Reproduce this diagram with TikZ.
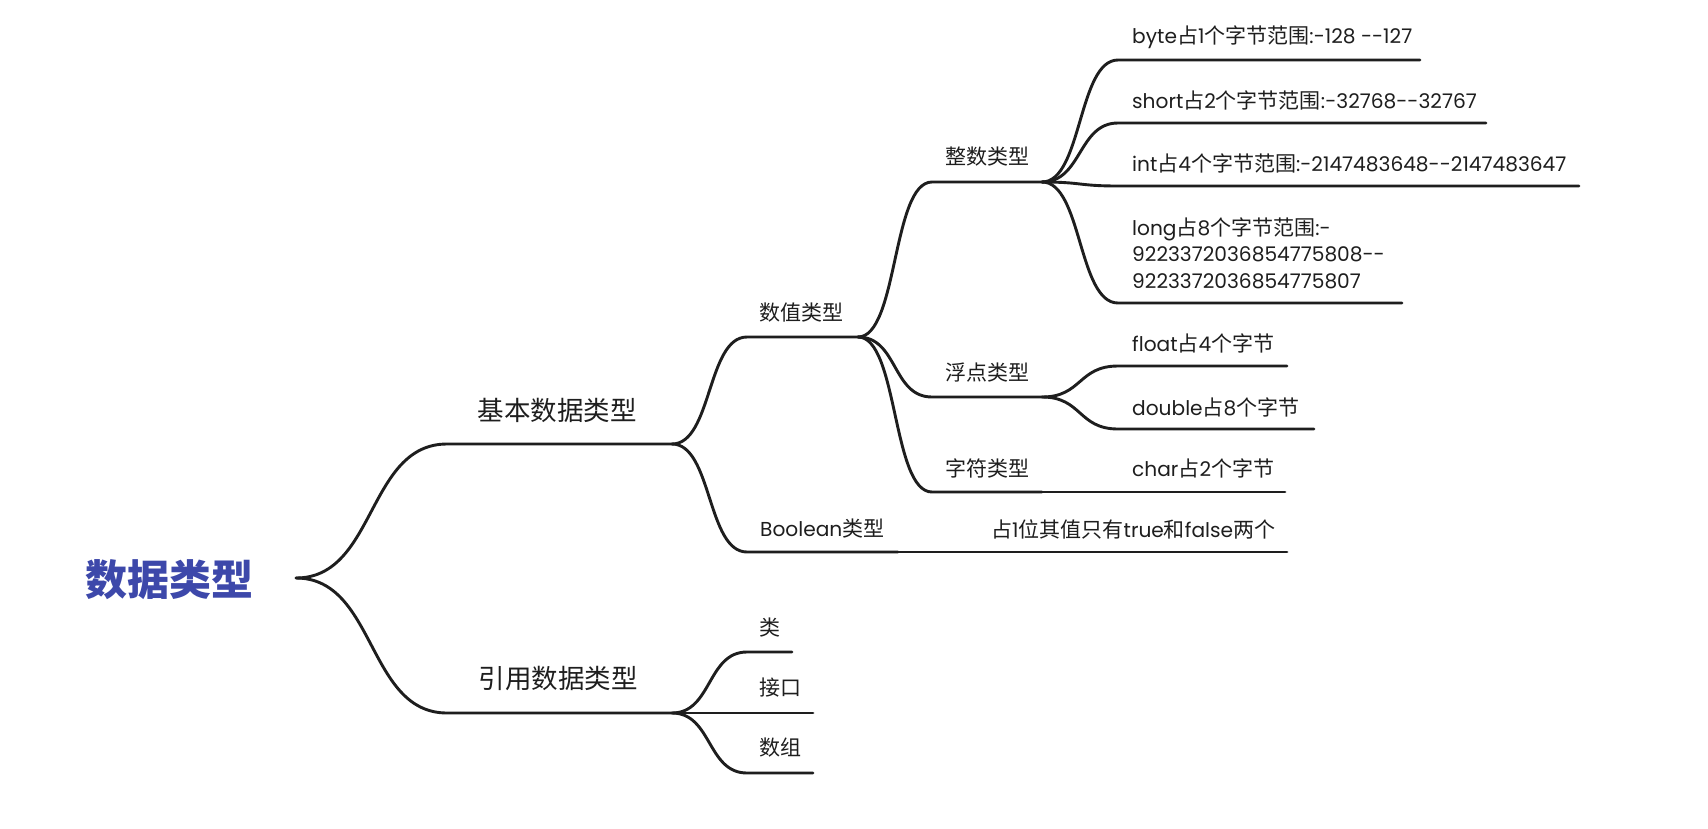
\documentclass[tikz,border=0pt]{standalone}
\usepackage{fontspec}
\setmainfont{Noto Sans CJK SC}
\newfontfamily\latn[Scale=0.96]{Poppins}
\definecolor{rootblue}{RGB}{61,72,170}
\definecolor{ink}{RGB}{30,30,30}
\begin{document}
\begin{tikzpicture}[x=1pt,y=-1pt,
  conn/.style={line width=2.9pt, line cap=round, draw=ink},
  br/.style={to path={.. controls ([xshift=#1]\tikztostart) and ([xshift=-#1]\tikztotarget) .. (\tikztotarget)}},
  lbl/.style={anchor=west, inner sep=0pt, text=ink, font=\fontsize{21}{26.5}\selectfont},
  big/.style={anchor=center, inner sep=0pt, text=ink, font=\fontsize{26.5}{30}\selectfont},
  rootlbl/.style={anchor=center, inner sep=0pt, text=rootblue, font=\fontsize{42}{48}\selectfont\bfseries}]
\useasboundingbox (0,0) rectangle (1708,828);
\fill[white] (0,0) rectangle (1708,828);

% text nodes
\node[rootlbl] (root) at (169,580) {数据类型};
\node[big] (tb1) at (557,410) {基本数据类型};
\node[big] (tb2) at (558,678) {引用数据类型};
\node[lbl] (tn1) at (759,313) {数值类型};
\node[lbl] (tbo) at (760,529) {{\latn Boolean}类型};
\node[lbl] (tz) at (945,157) {整数类型};
\node[lbl] (tf) at (945,373) {浮点类型};
\node[lbl] (tc) at (945,468) {字符类型};
\node[lbl] (tbyte) at (1132,37) {{\latn byte}占{\latn 1}个字节范围{\latn :-128 --127}};
\node[lbl] (tshort) at (1132,100) {{\latn short}占{\latn 2}个字节范围{\latn :-32768--32767}};
\node[lbl] (tint) at (1132,163) {{\latn int}占{\latn 4}个字节范围{\latn :-2147483648--2147483647}};
\node[lbl, align=left] (tlong) at (1132,253) {{\latn long}占{\latn 8}个字节范围{\latn :-}\\{\latn 9223372036854775808--}\\{\latn 9223372036854775807}};
\node[lbl] (tfloat) at (1132,343) {{\latn float}占{\latn 4}个字节};
\node[lbl] (tdouble) at (1132,407) {{\latn double}占{\latn 8}个字节};
\node[lbl] (tchar) at (1132,468) {{\latn char}占{\latn 2}个字节};
\node[lbl] (tbool) at (991,529) {占{\latn 1}位其值只有{\latn true}和{\latn false}两个};
\node[lbl] (tlei) at (759,628) {类};
\node[lbl] (tjk) at (759,688) {接口};
\node[lbl] (tsz) at (759,748) {数组};

% line coordinates
\coordinate (r) at (296,578);
\coordinate (b1s) at (447,444); \coordinate (b1e) at (672,444);
\coordinate (b2s) at (447,713); \coordinate (b2e) at (672,713);
\coordinate (n1s) at (747,337); \coordinate (n1e) at (858,337);
\coordinate (bos) at (747,552); \coordinate (boe) at (898,552);
\coordinate (zs) at (932,182); \coordinate (ze) at (1042,182);
\coordinate (fs) at (932,397); \coordinate (fe) at (1042,397);
\coordinate (cs) at (932,492); \coordinate (ce) at (1042,492);
\coordinate (byS) at (1118,60);  \coordinate (byE) at (1420,60);
\coordinate (shS) at (1118,123); \coordinate (shE) at (1486,123);
\coordinate (inS) at (1118,186); \coordinate (inE) at (1579,186);
\coordinate (loS) at (1118,303); \coordinate (loE) at (1402,303);
\coordinate (flS) at (1118,366); \coordinate (flE) at (1287,366);
\coordinate (doS) at (1118,429); \coordinate (doE) at (1314,429);
\coordinate (chS) at (1118,492); \coordinate (chE) at (1285,492);
\coordinate (bcS) at (978,552);  \coordinate (bcE) at (1287,552);
\coordinate (leS) at (747,652); \coordinate (leE) at (792,652);
\coordinate (jkS) at (747,713); \coordinate (jkE) at (813,713);
\coordinate (szS) at (747,773); \coordinate (szE) at (813,773);

% root
\draw[conn] (r) to[br=80] (b1s) -- (b1e);
\draw[conn] (r) to[br=80] (b2s) -- (b2e);
% level 2
\draw[conn] (b1e) to[br=40] (n1s) -- (n1e);
\draw[conn] (b1e) to[br=40] (bos) -- (boe);
\draw[conn] (b2e) to[br=40] (leS) -- (leE);
\draw[conn] (b2e) to[br=40] (jkS) -- (jkE);
\draw[conn] (b2e) to[br=40] (szS) -- (szE);
% level 3
\draw[conn] (n1e) to[br=40] (zs) -- (ze);
\draw[conn] (n1e) to[br=40] (fs) -- (fe);
\draw[conn] (n1e) to[br=40] (cs) -- (ce);
\draw[conn] (boe) -- (bcS) -- (bcE);
% level 4
\draw[conn] (ze) to[br=40] (byS) -- (byE);
\draw[conn] (ze) to[br=40] (shS) -- (shE);
\draw[conn] (ze) to[br=40] (inS) -- (inE);
\draw[conn] (ze) to[br=40] (loS) -- (loE);
\draw[conn] (fe) to[br=40] (flS) -- (flE);
\draw[conn] (fe) to[br=40] (doS) -- (doE);
\draw[conn] (ce) -- (chS) -- (chE);
\end{tikzpicture}
\end{document}
